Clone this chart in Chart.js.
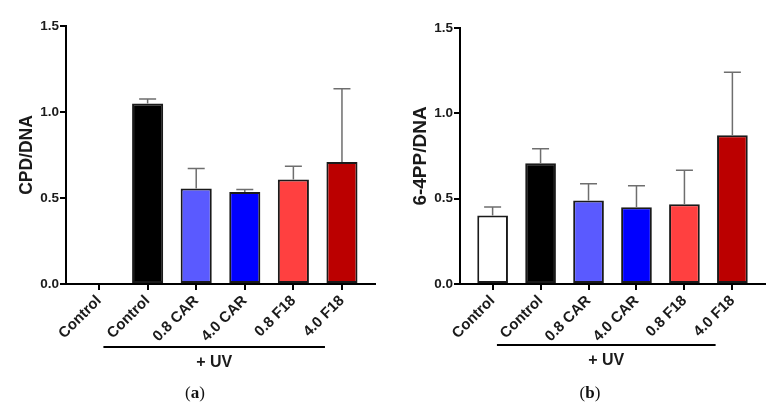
<!DOCTYPE html>
<html>
<head>
<meta charset="utf-8">
<script src="https://cdn.jsdelivr.net/npm/chart.js@4.4.1/dist/chart.umd.min.js"></script>
<style>
  body { margin: 0; background: #fff; }
  #wrap { position: relative; width: 784px; height: 414px; overflow: hidden; }
  .panel { position: absolute; top: 0; width: 392px; height: 414px; }
  .cap { position: absolute; top: 383px; transform: translateX(-50%); font-family: "Liberation Serif", "Times New Roman", serif; font-size: 17px; color: #111; }
</style>
</head>
<body>
<div id="wrap">
  <div class="panel" style="left:0"><canvas id="chartA" width="392" height="414"></canvas></div>
  <div class="panel" style="left:392px"><canvas id="chartB" width="392" height="414"></canvas></div>
  <div class="cap" style="left:195px">(<b>a</b>)</div>
  <div class="cap" style="left:590px">(<b>b</b>)</div>
</div>
<script>
// data
const categories = ['Control', 'Control', '0.8 CAR', '4.0 CAR', '0.8 F18', '4.0 F18'];
const cpdMeans = [null, 1.05, 0.555, 0.535, 0.607, 0.71];
const cpdErrors = [null, 0.025, 0.117, 0.014, 0.077, 0.425];
const ppMeans = [0.402, 0.707, 0.489, 0.449, 0.467, 0.871];
const ppErrors = [0.049, 0.086, 0.099, 0.127, 0.199, 0.369];
const yTicks = [0, 0.5, 1.0, 1.5];
const barColors = ['#ffffff', '#000000', '#5a5aff', '#0000ff', '#ff4040', '#bb0000'];

Chart.defaults.font.family = 'Arial, "Liberation Sans", sans-serif';
Chart.defaults.color = '#1a1a1a';

// upward error bars with caps
const errorBars = {
    id: 'errorBars',
    afterDatasetsDraw(chart) {
        const ds = chart.data.datasets[0];
        const meta = chart.getDatasetMeta(0);
        const y = chart.scales.y;
        const ctx = chart.ctx;
        ctx.save();
        ctx.strokeStyle = '#6e6e6e';
        ctx.lineWidth = 1.5;
        meta.data.forEach((bar, i) => {
            if (ds.means[i] == null || ds.errors[i] == null) return;
            const top = y.getPixelForValue(ds.means[i] + ds.errors[i]);
            ctx.beginPath();
            ctx.moveTo(bar.x, bar.y);
            ctx.lineTo(bar.x, top);
            ctx.moveTo(bar.x - 8.5, top);
            ctx.lineTo(bar.x + 8.5, top);
            ctx.stroke();
        });
        ctx.restore();
    }
};

// "+ UV" bracket under the labels
const uvBracket = {
    id: 'uvBracket',
    afterDraw(chart, args, opts) {
        const x = chart.scales.x;
        const ctx = chart.ctx;
        const x1 = x.getPixelForValue(0.09);
        const x2 = x.getPixelForValue(4.65);
        ctx.save();
        ctx.strokeStyle = '#000';
        ctx.lineWidth = 2;
        ctx.beginPath();
        ctx.moveTo(x1, opts.y);
        ctx.lineTo(x2, opts.y);
        ctx.stroke();
        ctx.fillStyle = '#1a1a1a';
        ctx.font = 'bold 16px Arial, "Liberation Sans", sans-serif';
        ctx.textAlign = 'center';
        ctx.textBaseline = 'alphabetic';
        ctx.fillText('+ UV', (x1 + x2) / 2, opts.y + 20);
        ctx.restore();
    }
};

function makeChart(id, means, errors, yTitle, box) {
    const ctx = document.getElementById(id).getContext('2d');
    return new Chart(ctx, {
        type: 'bar',
        data: {
            datasets: [{
                data: means.map((v, i) => ({ x: i, y: v })),
                means: means,
                errors: errors,
                backgroundColor: barColors,
                borderColor: '#1a1a1a',
                borderWidth: 2,
                borderSkipped: false,
                barPercentage: 0.64,
                categoryPercentage: 1
            }]
        },
        options: {
            responsive: false,
            animation: false,
            layout: { padding: { top: box.top, right: box.right, left: 0, bottom: 0 } },
            plugins: {
                legend: { display: false },
                tooltip: { enabled: false },
                uvBracket: { y: box.lineY }
            },
            scales: {
                x: {
                    type: 'linear',
                    min: -0.68,
                    max: 5.68,
                    offset: false,
                    afterBuildTicks: s => { s.ticks = categories.map((c, i) => ({ value: i })); },
                    afterFit: s => { s.height = box.bottomH; },
                    ticks: {
                        autoSkip: false,
                        minRotation: 45,
                        maxRotation: 45,
                        callback: v => categories[v],
                        font: { size: 15, weight: 'bold' },
                        padding: 2
                    },
                    grid: { offset: false, drawOnChartArea: false, tickLength: 6, color: '#000', lineWidth: 2 },
                    border: { color: '#000', width: 2 }
                },
                y: {
                    min: 0,
                    max: 1.5,
                    afterBuildTicks: s => { s.ticks = yTicks.map(v => ({ value: v })); },
                    afterFit: s => { s.width = box.leftW; },
                    ticks: {
                        callback: v => v.toFixed(1),
                        font: { size: 13.5, weight: 'bold' },
                        padding: 1
                    },
                    grid: { drawOnChartArea: false, tickLength: 6, color: '#000', lineWidth: 2 },
                    border: { color: '#000', width: 2 },
                    title: {
                        display: true,
                        text: yTitle,
                        font: { size: box.titleSize, weight: 'bold' },
                        padding: { top: 17, bottom: 0 }
                    }
                }
            }
        },
        plugins: [errorBars, uvBracket]
    });
}

makeChart('chartA', cpdMeans, cpdErrors, 'CPD/DNA',
    { top: 26, right: 17, leftW: 66, bottomH: 130, lineY: 347, titleSize: 17.5 });
makeChart('chartB', ppMeans, ppErrors, '6-4PP/DNA',
    { top: 28, right: 19, leftW: 68, bottomH: 130, lineY: 345, titleSize: 19 });
</script>
</body>
</html>
